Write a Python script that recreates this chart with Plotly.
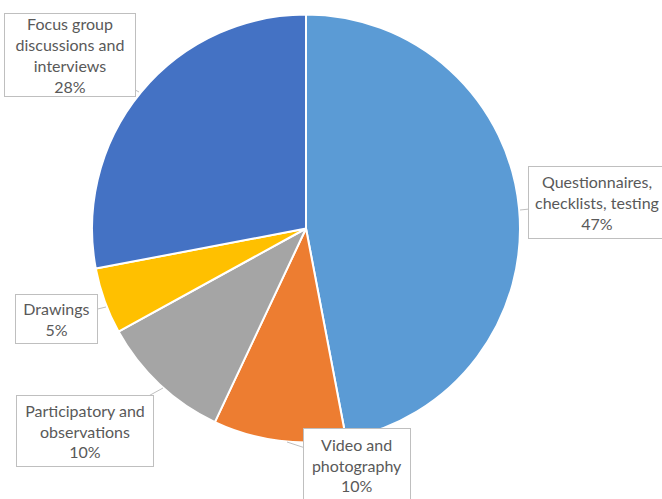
import plotly.graph_objects as go

W, H = 662, 499

categories = ["Questionnaires,<br>checklists, testing", "Video and<br>photography",
              "Participatory and<br>observations", "Drawings", "Focus group<br>discussions and<br>interviews"]
values = [47, 10, 10, 5, 28]
colors = ["#5B9BD5", "#ED7D31", "#A5A5A5", "#FFC000", "#4472C4"]

# label box layout (pixels): box center, box size, pointer tip
label_layout = [
    dict(cx=597, cy=202, w=136, h=71, tip=(520, 210)),
    dict(cx=357, cy=465, w=106, h=72, tip=(287, 442)),
    dict(cx=85, cy=431, w=136, h=70, tip=(163, 388)),
    dict(cx=56, cy=319, w=81, h=48, tip=(106, 307)),
    dict(cx=70, cy=55, w=130, h=82, tip=(139, 92)),
]

cx, cy, r = 306, 228.5, 214

fig = go.Figure(go.Pie(
    labels=categories, values=values, sort=False, direction="clockwise",
    rotation=0, marker=dict(colors=colors, line=dict(color="white", width=2)),
    textinfo="none", hoverinfo="label+percent", showlegend=False,
    domain=dict(x=[(cx - r) / W, (cx + r) / W], y=[1 - (cy + r) / H, 1 - (cy - r) / H]),
))

total = sum(values)
for cat, v, lay in zip(categories, values, label_layout):
    tx, ty = lay["tip"]
    fig.add_annotation(
        x=tx / W, y=1 - ty / H, xref="paper", yref="paper",
        text=f"{cat}<br>{round(100 * v / total)}%",
        showarrow=True, arrowhead=0, arrowwidth=1, arrowcolor="#BFBFBF",
        ax=lay["cx"] - tx, ay=lay["cy"] - ty, axref="pixel", ayref="pixel",
        bordercolor="#BFBFBF", borderwidth=1, borderpad=0, bgcolor="white",
        width=lay["w"], height=lay["h"], align="center", valign="middle",
        font=dict(family="Lato, Carlito, Calibri, sans-serif", size=16, color="#595959"),
    )

fig.update_layout(
    width=W, height=H, margin=dict(l=0, r=0, t=0, b=0),
    paper_bgcolor="white", plot_bgcolor="white",
)

fig.write_html("out.html")
